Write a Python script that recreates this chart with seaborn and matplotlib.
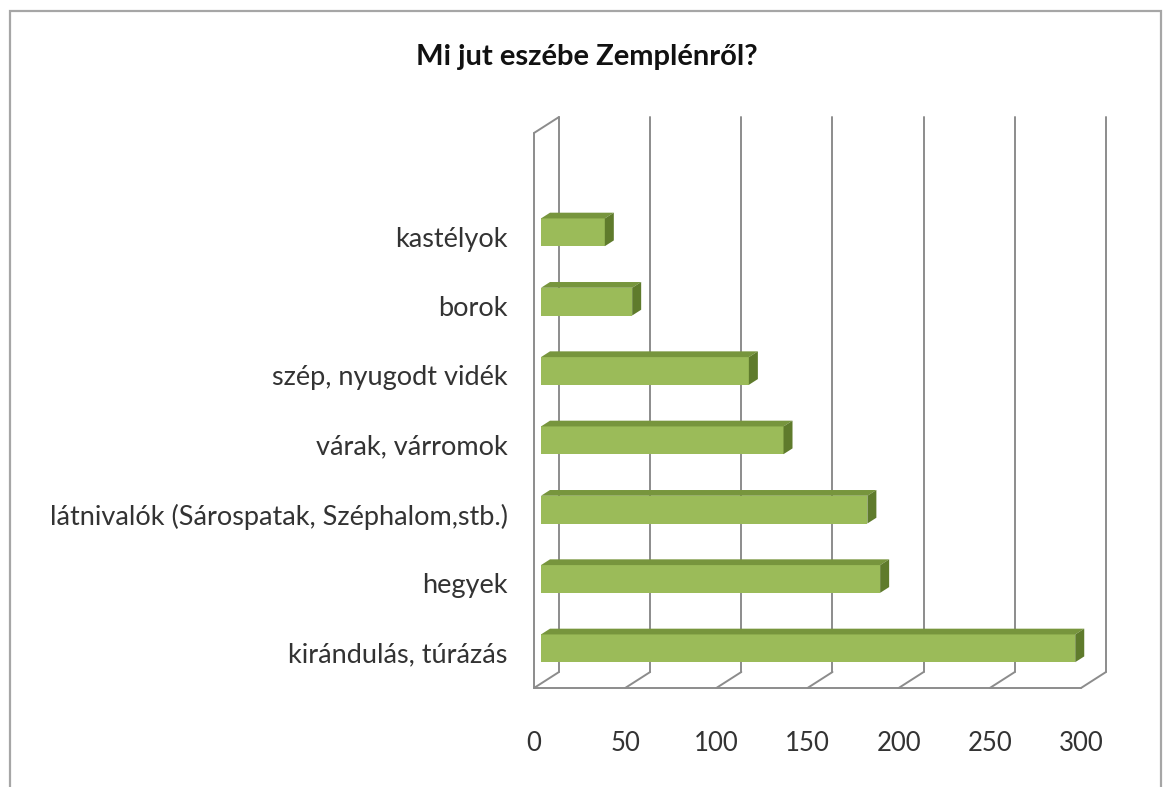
import matplotlib
matplotlib.use("Agg")
import matplotlib.pyplot as plt
from matplotlib.patches import Rectangle, Polygon
import seaborn as sns
import pandas as pd

categories = ["kastélyok", "borok", "szép, nyugodt vidék", "várak, várromok",
              "látnivalók (Sárospatak, Széphalom,stb.)", "hegyek", "kirándulás, túrázás"]
values = [35, 50, 114, 133, 179, 186, 293]
xticks = [0, 50, 100, 150, 200, 250, 300]
title = "Mi jut eszébe Zemplénről?"

sns.set_theme(style="white")
plt.rcParams["font.family"] = ["Lato", "DejaVu Sans"]

W, H = 1163, 787
fig = plt.figure(figsize=(W / 100, H / 100), dpi=100)
fig.patch.set_facecolor("white")

# front plane of the 3D box in pixels
fl, fr, ft, fb = 534, 1081, 133, 688
ax = fig.add_axes([fl / W, 1 - fb / H, (fr - fl) / W, (fb - ft) / H])

df = pd.DataFrame({"cat": categories, "val": values})
bar_h = 0.40
sns.barplot(data=df, x="val", y="cat", orient="h", color="#9BBB59",
            width=bar_h, saturation=1, ax=ax, zorder=5)

ax.set_xlim(0, 300)
ax.set_ylim(6.508, -1.497)
for s in ax.spines.values():
    s.set_visible(False)
ax.set_xlabel("")
ax.set_ylabel("")
ax.set_facecolor("none")

# depth offsets (pixels -> data units)
fig.canvas.draw()
p0 = ax.transData.transform((0, 0))
p1 = ax.transData.transform((1, 1))
ppx = p1[0] - p0[0]
ppy = p1[1] - p0[1]  # negative (inverted axis)
ddx = 25 / ppx
ddy = 16 / ppy  # moving up on screen

y_top, y_bot = -1.497, 6.508
grid_col = "#8c8c8c"
lw = 1.4

# back wall gridlines
for t in xticks:
    ax.plot([t + ddx, t + ddx], [y_top + ddy, y_bot + ddy], color=grid_col,
            lw=lw, clip_on=False, zorder=1)
    ax.plot([t, t + ddx], [y_bot, y_bot + ddy], color=grid_col, lw=lw,
            clip_on=False, zorder=1)
ax.plot([0, 300], [y_bot, y_bot], color=grid_col, lw=lw, clip_on=False, zorder=1)
ax.plot([0, 0], [y_top, y_bot], color=grid_col, lw=lw, clip_on=False, zorder=1)
ax.plot([0, ddx], [y_top, y_top + ddy], color=grid_col, lw=lw, clip_on=False, zorder=1)

# 3D bars
f0, f1 = 0.28, 0.64
top_col = "#77953D"
side_col = "#5F7B2C"
for patch in list(ax.patches):
    x0 = patch.get_x()
    y0 = patch.get_y()
    w = patch.get_width()
    h = patch.get_height()
    patch.set_x(x0 + f0 * ddx)
    patch.set_y(y0 + f0 * ddy)
    patch.set_edgecolor("none")
    patch.set_clip_on(False)
    xa, xb = x0 + f0 * ddx, x0 + w + f0 * ddx
    xa2, xb2 = x0 + f1 * ddx, x0 + w + f1 * ddx
    yt, ybm = y0 + f0 * ddy, y0 + h + f0 * ddy
    yt2, yb2 = y0 + f1 * ddy, y0 + h + f1 * ddy
    ax.add_patch(Polygon([(xa, yt), (xb, yt), (xb2, yt2), (xa2, yt2)],
                         closed=True, facecolor=top_col, edgecolor="none",
                         clip_on=False, zorder=6))
    ax.add_patch(Polygon([(xb, yt), (xb, ybm), (xb2, yb2), (xb2, yt2)],
                         closed=True, facecolor=side_col, edgecolor="none",
                         clip_on=False, zorder=6))

ax.set_xticks(xticks)
ax.set_xticklabels([str(t) for t in xticks], fontsize=18.5, color="#333333")
ax.tick_params(axis="x", length=0, pad=31)
ax.tick_params(axis="y", length=0, pad=19, labelsize=19.5, labelcolor="#333333")

fig.text(587 / W, 1 - 57 / H, title, ha="center", va="center",
         fontsize=21, fontweight="bold", color="#111111")

# outer chart border
fig.add_artist(Rectangle((10 / W, -0.05), (1161 - 10) / W, 1 - 11 / H + 0.05,
                         transform=fig.transFigure, fill=False,
                         edgecolor="#a6a6a6", lw=1.6))

fig.savefig("out.png", dpi=100)
